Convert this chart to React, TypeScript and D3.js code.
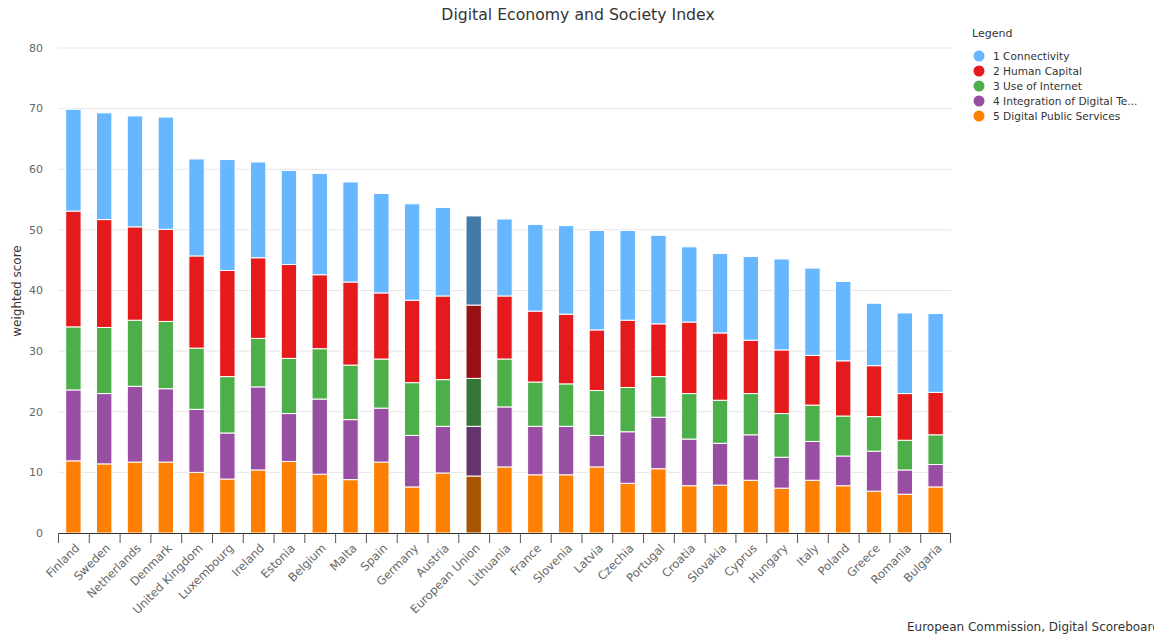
import React from "react";
import * as d3 from "d3";

const countries = ["Finland","Sweden","Netherlands","Denmark","United Kingdom","Luxembourg","Ireland","Estonia","Belgium","Malta","Spain","Germany","Austria","European Union","Lithuania","France","Slovenia","Latvia","Czechia","Portugal","Croatia","Slovakia","Cyprus","Hungary","Italy","Poland","Greece","Romania","Bulgaria"];
const publicServices = [11.9,11.4,11.7,11.7,10.0,8.9,10.4,11.8,9.7,8.8,11.7,7.6,9.9,9.4,10.9,9.6,9.6,10.9,8.2,10.6,7.8,7.9,8.7,7.4,8.7,7.8,6.9,6.4,7.6];
const integration = [11.7,11.6,12.5,12.1,10.4,7.6,13.7,7.9,12.4,9.9,8.9,8.5,7.7,8.2,9.9,8.0,8.0,5.2,8.5,8.5,7.7,6.9,7.5,5.1,6.4,4.9,6.6,4.0,3.7];
const useOfInternet = [10.4,10.9,10.9,11.1,10.1,9.3,8.0,9.1,8.3,9.0,8.1,8.7,7.7,7.9,7.9,7.3,7.0,7.4,7.3,6.7,7.5,7.1,6.8,7.2,6.0,6.6,5.7,4.9,4.9];
const humanCapital = [19.1,17.8,15.4,15.2,15.2,17.5,13.3,15.5,12.2,13.7,10.9,13.6,13.8,12.1,10.4,11.7,11.5,10.0,11.1,8.7,11.8,11.1,8.8,10.5,8.2,9.1,8.4,7.7,7.0];
const connectivity = [16.8,17.6,18.3,18.5,16.0,18.3,15.8,15.5,16.7,16.5,16.4,15.9,14.6,14.7,12.7,14.3,14.6,16.4,14.8,14.6,12.4,13.1,13.8,15.0,14.4,13.1,10.3,13.3,13.0];
const seriesNames = ["1 Connectivity","2 Human Capital","3 Use of Internet","4 Integration of Digital Te...","5 Digital Public Services"];
const yTicks = [0,10,20,30,40,50,60,70,80];

const colors: Record<string,string> = {
  conn: "#66b7ff", hc: "#e41a1c", use: "#4daf4a", integ: "#984ea3", dps: "#ff7f00",
};
const darkColors: Record<string,string> = {
  conn: "#447aa8", hc: "#9a1115", use: "#357535", integ: "#65346d", dps: "#a85500",
};
const legendColors = [colors.conn, colors.hc, colors.use, colors.integ, colors.dps];

const FONT = "'DejaVu Sans', Verdana, sans-serif";

export default function App() {
  const W = 1154, H = 637;
  const left = 58, right = 951, top = 48, bottom = 533;
  const rows = countries.map((c, i) => ({
    country: c, dps: publicServices[i], integ: integration[i], use: useOfInternet[i], hc: humanCapital[i], conn: connectivity[i],
  }));
  const keys = ["dps", "integ", "use", "hc", "conn"];
  const stacked = d3.stack<any>().keys(keys)(rows);
  const x = d3.scaleBand().domain(countries).range([left, right]).paddingInner(0).paddingOuter(0);
  const y = d3.scaleLinear().domain([0, 80]).range([bottom, top]);
  const bw = x.bandwidth() * 0.5;

  return (
    <svg width={W} height={H} style={{ position: "absolute", left: 0, top: 0, fontFamily: FONT }}>
      <rect width={W} height={H} fill="#fff" />
      <text x={578} y={20} textAnchor="middle" fontSize={15.7} fill="#333">Digital Economy and Society Index</text>
      {yTicks.map(t => (
        <g key={t}>
          {t > 0 && <line x1={left} x2={right} y1={y(t)} y2={y(t)} stroke="#e6e6e6" strokeWidth={1} />}
          <text x={43} y={y(t)} dy="0.35em" textAnchor="end" fontSize={11} fill="#666">{t}</text>
        </g>
      ))}
      <text transform={`translate(17,291) rotate(-90)`} textAnchor="middle" fontSize={12} fill="#333" dy="0.35em">weighted score</text>
      {stacked.map(layer => (
        <g key={layer.key}>
          {layer.map((d, i) => {
            const c = countries[i];
            const fill = c === "European Union" ? darkColors[layer.key] : colors[layer.key];
            const x0 = (x(c) as number) + (x.bandwidth() - bw) / 2;
            return <rect key={c} x={x0} y={y(d[1])} width={bw} height={y(d[0]) - y(d[1])} fill={fill} stroke="#fff" strokeWidth={1} />;
          })}
        </g>
      ))}
      <line x1={left} x2={right} y1={bottom + 0.5} y2={bottom + 0.5} stroke="#333" strokeWidth={1} />
      {countries.map((c, i) => (
        <line key={"t" + c} x1={(x(c) as number) + 0.5} x2={(x(c) as number) + 0.5} y1={bottom} y2={bottom + 10} stroke="#555" strokeWidth={1} />
      ))}
      <line x1={right - 0.5} x2={right - 0.5} y1={bottom} y2={bottom + 10} stroke="#555" strokeWidth={1} />
      {countries.map(c => {
        const cx = (x(c) as number) + x.bandwidth() / 2;
        return (
          <text key={"l" + c} transform={`translate(${cx + 4},${bottom + 13}) rotate(-45)`} textAnchor="end" fontSize={11.6} fill="#666" dy="0.35em">{c}</text>
        );
      })}
      <text x={972} y={37} fontSize={11} fill="#333">Legend</text>
      {seriesNames.map((s, i) => (
        <g key={s} transform={`translate(0,${56 + i * 15})`}>
          <circle cx={979} cy={0} r={5.5} fill={legendColors[i]} />
          <text x={993} y={0} dy="0.35em" fontSize={10.6} fill="#333">{s}</text>
        </g>
      ))}
      <text x={907} y={631} fontSize={12} fill="#333">European Commission, Digital Scoreboard</text>
    </svg>
  );
}
